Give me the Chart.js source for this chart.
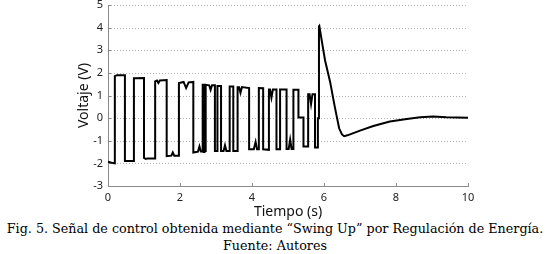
<!DOCTYPE html>
<html><head><meta charset="utf-8">
<script src="https://cdn.jsdelivr.net/npm/chart.js@4.4.1/dist/chart.umd.min.js"></script>
<style>
html,body{margin:0;padding:0;background:#fff;width:550px;height:254px;overflow:hidden}
#wrap{position:relative;width:550px;height:220px}
.cap{position:absolute;left:0;width:550px;text-align:center;font-family:"DejaVu Serif",serif;color:#000;white-space:nowrap;line-height:1}
</style></head><body>
<div id="wrap"><canvas id="c" width="550" height="220"></canvas></div>
<div class="cap" id="cap1" style="top:223px;font-size:12.5px">Fig. 5. Señal de control obtenida mediante “Swing Up” por Regulación de Energía.</div>
<div class="cap" id="cap2" style="top:240px;font-size:12.5px">Fuente: Autores</div>
<script>
const xTicks = [0, 2, 4, 6, 8, 10];
const yTicks = [-3, -2, -1, 0, 1, 2, 3, 4, 5];
const tiempo = [0,0.1,0.19,0.19,0.25,0.47,0.47,0.72,0.72,1.0,1.0,1.05,1.1,1.31,1.31,1.36,1.4,1.44,1.63,1.63,1.76,1.8,1.84,1.97,1.97,2.1,2.17,2.24,2.37,2.37,2.5,2.54,2.58,2.63,2.63,2.66,2.66,2.68,2.68,2.7,2.7,2.72,2.72,2.81,2.85,2.89,2.97,2.97,3.04,3.04,3.14,3.14,3.21,3.25,3.29,3.38,3.38,3.48,3.48,3.6,3.6,3.64,3.68,3.72,3.92,3.92,4.05,4.1,4.14,4.19,4.19,4.31,4.31,4.47,4.47,4.5,4.54,4.58,4.68,4.68,4.78,4.78,4.96,4.96,5.02,5.06,5.1,5.15,5.15,5.29,5.29,5.43,5.43,5.56,5.56,5.6,5.64,5.68,5.75,5.75,5.83,5.83,5.86,5.86,5.87,5.95,6.03,6.17,6.3,6.42,6.5,6.56,6.65,7.0,7.37,7.83,8.3,8.67,9.03,9.4,10];
const voltaje = [-1.93,-1.97,-2.0,1.86,1.9,1.9,-1.9,-1.9,1.76,1.77,-1.76,-1.8,-1.78,-1.78,1.62,1.66,1.55,1.66,1.68,-1.68,-1.66,-1.52,-1.66,-1.66,1.55,1.6,1.33,1.58,1.6,-1.52,-1.48,-1.25,-1.48,-1.48,1.47,1.47,-1.5,-1.5,1.47,1.47,-1.5,-1.5,1.47,1.45,1.25,1.45,1.45,-1.45,-1.45,1.42,1.42,-1.45,-1.45,-1.2,-1.45,-1.45,1.4,1.4,-1.45,-1.45,1.37,1.37,1.12,1.37,1.33,-1.38,-1.38,-1.05,-1.38,-1.38,1.33,1.32,-1.38,-1.4,1.26,1.26,0.9,1.26,1.26,-1.38,-1.38,1.26,1.26,-1.36,-1.36,-0.95,-1.36,-1.36,1.25,1.25,0.03,0.03,-1.25,-1.25,1.05,1.05,0.62,1.05,1.05,-1.3,-1.3,0.0,0.0,4.06,4.08,3.3,2.55,1.6,0.5,-0.45,-0.72,-0.8,-0.76,-0.55,-0.35,-0.15,-0.04,0.04,0.07,0.04,0.02];
const xLabel = 'Tiempo (s)';
const yLabel = 'Voltaje (V)';

const pts = tiempo.map((t, i) => ({x: t, y: voltaje[i]}));

const axisDecor = {
  id: 'axisDecor',
  beforeDatasetsDraw(chart) {
    const ctx = chart.ctx, xs = chart.scales.x, ys = chart.scales.y, a = chart.chartArea;
    ctx.save();
    ctx.strokeStyle = '#b0b0b0'; ctx.lineWidth = 1; ctx.setLineDash([1, 2]);
    yTicks.forEach(v => {
      if (v === yTicks[0]) return;
      const py = Math.round(ys.getPixelForValue(v)) + 0.5;
      ctx.beginPath(); ctx.moveTo(a.left + 3, py); ctx.lineTo(a.right, py); ctx.stroke();
    });
    ctx.setLineDash([]);
    ctx.strokeStyle = '#8a8a8a';
    xTicks.forEach(v => {
      const px = Math.round(xs.getPixelForValue(v)) + 0.5;
      ctx.beginPath(); ctx.moveTo(px, a.bottom); ctx.lineTo(px, a.bottom - 3); ctx.stroke();
    });
    yTicks.forEach(v => {
      const py = Math.round(ys.getPixelForValue(v)) + 0.5;
      ctx.beginPath(); ctx.moveTo(a.left, py); ctx.lineTo(a.left + 3, py); ctx.stroke();
    });
    ctx.restore();
  }
};

new Chart(document.getElementById('c'), {
  type: 'scatter',
  data: { datasets: [{ data: pts, showLine: true, borderColor: '#000', borderWidth: 2, pointRadius: 0, fill: false, tension: 0 }] },
  options: {
    responsive: false, animation: false,
    layout: { padding: { left: 76, right: 82, top: 5, bottom: 0 } },
    plugins: { legend: { display: false }, tooltip: { enabled: false } },
    scales: {
      x: {
        type: 'linear', min: 0, max: 10,
        afterBuildTicks: s => { s.ticks = xTicks.map(v => ({value: v})); },
        afterFit: s => { s.height = 34; s.paddingLeft = 0; s.paddingRight = 0; },
        grid: { display: false, drawTicks: false },
        border: { display: true, color: '#8a8a8a', width: 1 },
        ticks: { color: '#222', font: { family: 'Noto Sans', size: 11 }, padding: 5, maxRotation: 0 },
        title: { display: true, text: xLabel, color: '#111', font: { family: 'Noto Sans', size: 14 }, padding: { top: 0, bottom: 0 } }
      },
      y: {
        type: 'linear', min: -3, max: 5,
        afterBuildTicks: s => { s.ticks = yTicks.map(v => ({value: v})); },
        afterFit: s => { s.width = 32; s.paddingTop = 0; s.paddingBottom = 0; },
        grid: { display: false, drawTicks: false },
        border: { display: true, color: '#8a8a8a', width: 1 },
        ticks: { color: '#222', font: { family: 'Noto Sans', size: 11 }, padding: 5 },
        title: { display: true, text: yLabel, color: '#111', font: { family: 'Noto Sans', size: 14 }, padding: { top: 0, bottom: 0 } }
      }
    }
  },
  plugins: [axisDecor]
});

const mctx = document.createElement('canvas').getContext('2d');
mctx.font = '12.5px "DejaVu Serif"';
const tw = mctx.measureText(document.getElementById('cap1').textContent).width;
const fs = Math.min(14, 12.5 * 537 / tw);
document.getElementById('cap1').style.fontSize = fs + 'px';
document.getElementById('cap2').style.fontSize = fs + 'px';
</script>
</body></html>
